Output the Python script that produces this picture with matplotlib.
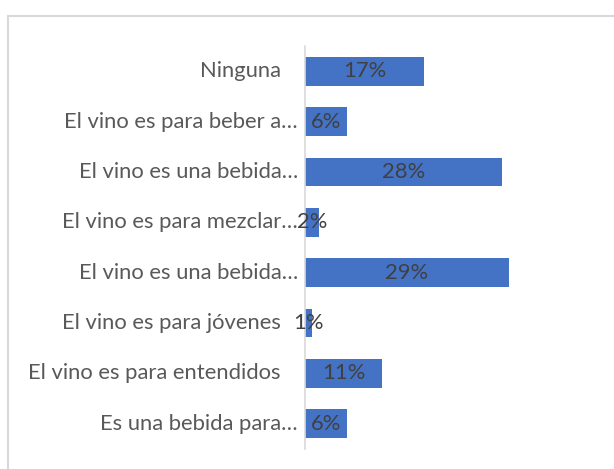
import matplotlib.pyplot as plt
from matplotlib.patches import Rectangle

# categories from top to bottom, as shown in the chart
categories = [
    "Ninguna",
    "El vino es para beber a…",
    "El vino es una bebida…",
    "El vino es para mezclar…",
    "El vino es una bebida…",
    "El vino es para jóvenes",
    "El vino es para entendidos",
    "Es una bebida para…",
]
truncated = [False, True, True, True, True, False, False, True]
shares = [0.17, 0.06, 0.28, 0.02, 0.29, 0.01, 0.11, 0.06]

BAR = '#4472C4'
GRID = '#D9D9D9'
TXT = '#595959'
VAL = '#404040'
FS = 15.8

plt.rcParams['font.family'] = ['Lato', 'DejaVu Sans']

fig = plt.figure(figsize=(6.14, 4.69), dpi=100)
fig.patches.append(Rectangle((8 / 614, -0.2), 1.2, 1.2 - 16 / 469,
                             transform=fig.transFigure, fill=False,
                             edgecolor=GRID, lw=1.5, clip_on=False))

ax = fig.add_axes([305 / 614, 1 - 449 / 469, 246 / 614, 403 / 469])
y = list(range(len(categories)))
ax.barh(y, shares, height=0.57, color=BAR)
ax.set_xlim(0, 0.35)
ax.set_ylim(len(categories) - 0.5, -0.5)

for i, (cat, v, tr) in enumerate(zip(categories, shares, truncated)):
    # full labels sit further from the axis than the truncated ones
    pad = -7 if tr else -24
    ax.annotate(cat, (0, i), xytext=(pad * 0.72, 0), textcoords='offset points',
                ha='right', va='center', fontsize=FS, color=TXT)
    ax.text(v / 2, i, f"{v * 100:.0f}%", ha='center', va='center',
            fontsize=FS, color=VAL)

for s in ['top', 'right', 'bottom']:
    ax.spines[s].set_visible(False)
ax.spines['left'].set_color(GRID)
ax.spines['left'].set_linewidth(1.2)
ax.set_xticks([])
ax.set_yticks([])

fig.savefig('out.png', dpi=100)
